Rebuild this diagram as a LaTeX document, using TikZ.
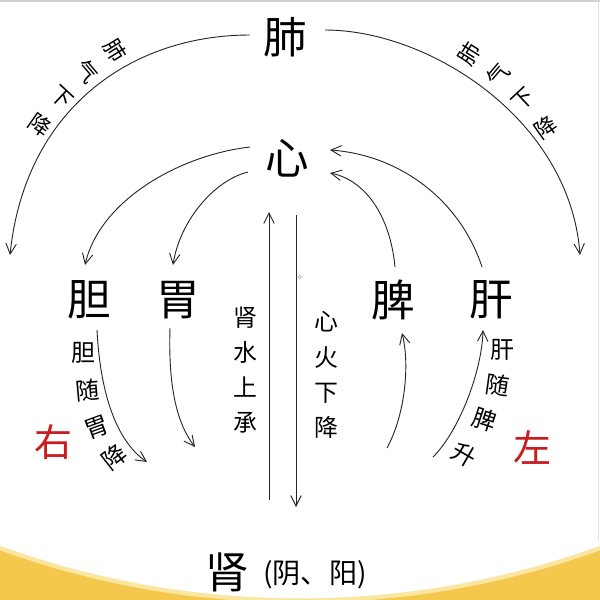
\documentclass[tikz,border=0pt]{standalone}
\usepackage{fontspec}
\newfontfamily\cjk{Noto Sans CJK SC}
\newfontfamily\symf{DejaVu Sans}
\usetikzlibrary{arrows.meta}
\definecolor{gold}{RGB}{244,200,76}
\definecolor{paleg}{RGB}{250,230,160}
\definecolor{redc}{RGB}{200,28,30}
\begin{document}
\begin{tikzpicture}[x=0.025cm,y=-0.025cm,
  organ/.style={font=\cjk\fontsize{31}{31}\selectfont, inner sep=0pt},
  lab/.style={font=\cjk\fontsize{17}{17}\selectfont, inner sep=0pt},
  arclab/.style={font=\cjk\fontsize{15.5}{15.5}\selectfont, inner sep=0pt},
  vlab/.style={font=\cjk\fontsize{17}{25}\selectfont, inner sep=0pt, align=center},
  side/.style={font=\cjk\fontsize{27}{27}\selectfont, inner sep=0pt, text=redc},
  flow/.style={line width=0.65pt, draw=black!85, -{Straight Barb[length=2.6mm,width=2.6mm]}}]
\useasboundingbox (0,0) rectangle (600,600);
\fill[white] (0,0) rectangle (600,600);
\begin{scope}
  \clip (0,0) rectangle (600,600);
  \fill[gold] (0,480) rectangle (600,600);
  \fill[paleg] (300,-277.5) circle[radius=22.0cm];
  \fill[white] (300,-277.5) circle[radius=21.89cm];
\end{scope}
\draw[gray!35, line width=0.8pt] (0,1) -- (600,1);
\draw[gray!25, line width=0.6pt] (598.5,0) -- (598.5,540);

% organs
\node[organ] (fei) at (285,37) {肺};
\node[organ] (xin) at (287,158) {心};
\node[organ] (dan) at (89,300) {胆};
\node[organ] (wei) at (178,300) {胃};
\node[organ] (pi) at (393,300) {脾};
\node[organ] (gan) at (491,300) {肝};
\node[organ] (shen) at (227,572) {肾};
\node[font=\cjk\fontsize{20}{20}\selectfont, inner sep=0pt] (yy) at (315,575) {(阴、阳)};

% sides
\node[side] (you) at (53,442) {右};
\node[side] (zuo) at (532,448) {左};

% vertical labels
\node[vlab] (shui) at (245,370) {肾\\水\\上\\承};
\node[vlab] (huo) at (326,375) {心\\火\\下\\降};

% arc labels left
\node[arclab, rotate=-58] (l1) at (115,50) {肺};
\node[arclab, rotate=-50] (l2) at (87,71) {气};
\node[arclab, rotate=-43] (l3) at (62,97) {下};
\node[arclab, rotate=-35] (l4) at (40,125) {降};
% arc labels right
\node[arclab, rotate=58] (r1) at (469,54) {肺};
\node[arclab, rotate=50] (r2) at (498,75) {气};
\node[arclab, rotate=43] (r3) at (523,100) {下};
\node[arclab, rotate=35] (r4) at (546,127) {降};

% dan sui wei jiang
\node[lab] (d1) at (83,353) {胆};
\node[lab, rotate=5] (d2) at (88,390) {随};
\node[lab, rotate=20] (d3) at (97,427) {胃};
\node[lab, rotate=38] (d4) at (114,457) {降};
% gan sui pi sheng
\node[lab] (g1) at (502,350) {肝};
\node[lab, rotate=-8] (g2) at (498,385) {随};
\node[lab, rotate=-18] (g3) at (485,420) {脾};
\node[lab, rotate=-30] (g4) at (464,455) {升};

\node[font=\symf\fontsize{6}{6}\selectfont, text=gray, inner sep=0pt] (spark) at (300,277) {✧};

% connector endpoints
\coordinate (a1s) at (250,35);  \coordinate (a1e) at (10,255);
\coordinate (a2s) at (325,30);  \coordinate (a2e) at (580,255);
\coordinate (xd1) at (250,147); \coordinate (xd2) at (85,265);
\coordinate (xw1) at (248,172); \coordinate (xw2) at (173,265);
\coordinate (gx1) at (482,267); \coordinate (gx2) at (330,150);
\coordinate (px1) at (395,267); \coordinate (px2) at (330,173);
\coordinate (up1) at (269,500); \coordinate (up2) at (269,212);
\coordinate (dn1) at (296,215); \coordinate (dn2) at (296,507);
\coordinate (dl1) at (97,330);  \coordinate (dl2) at (147,462);
\coordinate (wl1) at (170,328); \coordinate (wl2) at (195,447);
\coordinate (pl1) at (387,448); \coordinate (pl2) at (402,333);
\coordinate (gl1) at (433,457); \coordinate (gl2) at (483,330);

\draw[flow] (a1s) .. controls (130,35) and (25,110) .. (a1e);
\draw[flow] (a2s) .. controls (430,30) and (570,120) .. (a2e);
\draw[flow] (xd1) .. controls (180,155) and (100,200) .. (xd2);
\draw[flow] (xw1) .. controls (215,180) and (180,220) .. (xw2);
\draw[flow] (gx1) .. controls (460,200) and (400,155) .. (gx2);
\draw[flow] (px1) .. controls (390,215) and (365,180) .. (px2);
\draw[flow] (up1) -- (up2);
\draw[flow] (dn1) -- (dn2);
\draw[flow] (dl1) .. controls (100,390) and (115,440) .. (dl2);
\draw[flow] (wl1) .. controls (168,390) and (178,425) .. (wl2);
\draw[flow] (pl1) .. controls (405,415) and (410,365) .. (pl2);
\draw[flow] (gl1) .. controls (460,430) and (482,370) .. (gl2);
\end{tikzpicture}
\end{document}
